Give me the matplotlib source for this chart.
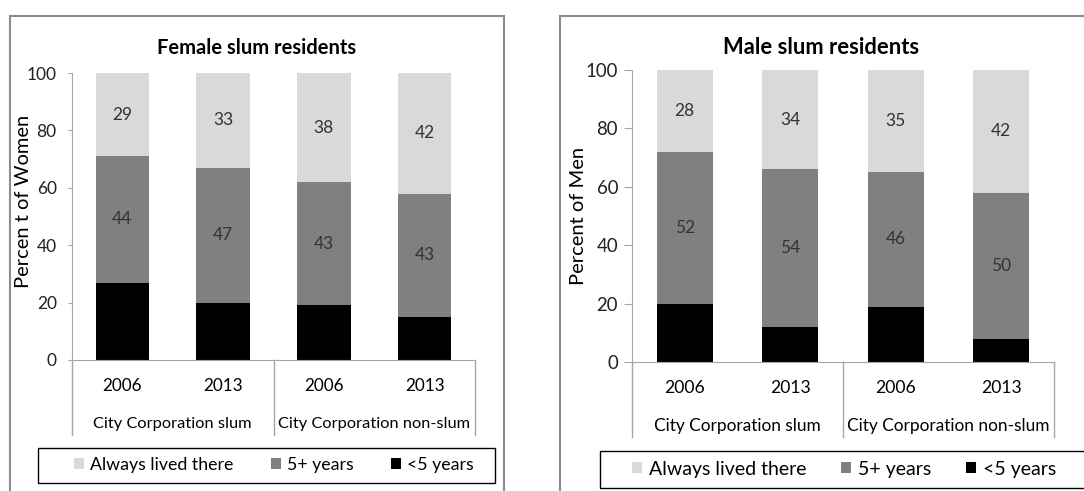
import matplotlib
matplotlib.use("Agg")
import matplotlib.pyplot as plt
from matplotlib.patches import Rectangle
import matplotlib.transforms as mtransforms

plt.rcParams['font.family'] = ['Lato', 'DejaVu Sans']

# --- data ---
years = ['2006', '2013', '2006', '2013']
groups = ['City Corporation slum', 'City Corporation non-slum']
series_names = ['Always lived there', '5+ years', '<5 years']

female_lt5 = [27, 20, 19, 15]
female_5plus = [44, 47, 43, 43]
female_always = [29, 33, 38, 42]

male_lt5 = [20, 12, 19, 8]
male_5plus = [52, 54, 46, 50]
male_always = [28, 34, 35, 42]

C_LIGHT = '#d9d9d9'
C_MID = '#808080'
C_DARK = '#000000'
TXT = '#333333'
SPINE = '#a6a6a6'

W, H = 1084, 491
fig = plt.figure(figsize=(W / 100, H / 100), dpi=100)


def px(x0, y0, x1, y1):
    # pixel box -> figure fraction [left, bottom, width, height]
    return [x0 / W, 1 - y1 / H, (x1 - x0) / W, (y1 - y0) / H]


def draw_panel(ax_box, title, title_x, ylabel, ylab_pos, lt5, plus5, always,
               leg_box, leg_center, frame_box, fs):
    ax = fig.add_axes(px(*ax_box))
    xs = range(len(years))
    bw = 0.53
    ax.bar(xs, lt5, bw, color=C_DARK, label=series_names[2])
    ax.bar(xs, plus5, bw, bottom=lt5, color=C_MID, label=series_names[1])
    bot2 = [a + b for a, b in zip(lt5, plus5)]
    ax.bar(xs, always, bw, bottom=bot2, color=C_LIGHT, label=series_names[0])

    for x, a, b, c in zip(xs, lt5, plus5, always):
        ax.text(x, a + b / 2, f'{b}', ha='center', va='center', fontsize=fs['val'], color=TXT)
        ax.text(x, a + b + c / 2, f'{c}', ha='center', va='center', fontsize=fs['val'], color=TXT)

    ax.set_xlim(-0.5, len(years) - 0.5)
    ax.set_ylim(0, 100)
    ax.set_yticks(range(0, 101, 20))
    ax.set_xticks([])
    ax.tick_params(axis='y', direction='out', length=fs['tlen'], color=SPINE,
                   labelsize=fs['tick'], pad=fs['pad'], labelcolor='#222222')
    for s in ['top', 'right']:
        ax.spines[s].set_visible(False)
    ax.spines['left'].set_color(SPINE)
    ax.spines['bottom'].set_color(SPINE)

    fig.text(ylab_pos[0] / W, 1 - ylab_pos[1] / H, ylabel, rotation=90,
             ha='center', va='center', fontsize=fs['ylab'])

    h_ax = ax_box[3] - ax_box[1]
    trans = mtransforms.blended_transform_factory(ax.transData, ax.transAxes)
    for x, yr in zip(xs, years):
        ax.text(x, -26 / h_ax, yr, transform=trans, ha='center', va='center', fontsize=fs['year'])
    for i, g in enumerate(groups):
        ax.text(0.5 + 2 * i, -64 / h_ax, g, transform=trans, ha='center', va='center', fontsize=fs['group'])
    for xa in [0, 0.5, 1]:
        ax.plot([xa, xa], [0, -75 / h_ax], transform=ax.transAxes, color=SPINE, lw=1, clip_on=False)

    handles, labels = ax.get_legend_handles_labels()
    lx, ly = leg_center
    ax.legend(handles[::-1], labels[::-1], ncol=3, loc='center',
              bbox_to_anchor=(lx / W, 1 - ly / H), bbox_transform=fig.transFigure,
              frameon=False, fontsize=fs['leg'],
              handlelength=0.55, handleheight=0.55, handletextpad=0.35,
              columnspacing=fs['colsp'], borderaxespad=0, borderpad=0)
    bx, by, bwid, bh = px(*leg_box)
    fig.patches.append(Rectangle((bx, by), bwid, bh, transform=fig.transFigure,
                                 fill=False, edgecolor='#000000', lw=1))

    fig.text(title_x / W, 1 - 48 / H, title, ha='center', va='center',
             fontsize=fs['title'], fontweight='bold')

    fx, fy, fw, fh = px(*frame_box)
    fig.patches.append(Rectangle((fx, fy), fw, fh, transform=fig.transFigure,
                                 fill=False, edgecolor='#8c8c8c', lw=1.5))
    return ax


fs_left = dict(val=12.5, tick=12.5, tlen=3, pad=8, ylab=14.5, year=12.3, group=11.8,
               leg=12.8, colsp=2.1, title=14.5)
fs_right = dict(val=12.5, tick=13.4, tlen=6, pad=4, ylab=14.5, year=12.6, group=12.4,
                leg=14, colsp=1.75, title=15.8)

draw_panel((72, 73, 475, 360), 'Female slum residents', 257, 'Percen t of Women', (24, 201),
           female_lt5, female_5plus, female_always,
           (38, 448, 495, 483), (274, 465), (10, 16, 504, 495), fs_left)
draw_panel((632, 70, 1054, 362), 'Male slum residents', 821, 'Percent of Men', (578, 216),
           male_lt5, male_5plus, male_always,
           (600, 451, 1095, 488), (844, 469), (560, 16, 1095, 495), fs_right)

fig.savefig('out.png', dpi=100)
